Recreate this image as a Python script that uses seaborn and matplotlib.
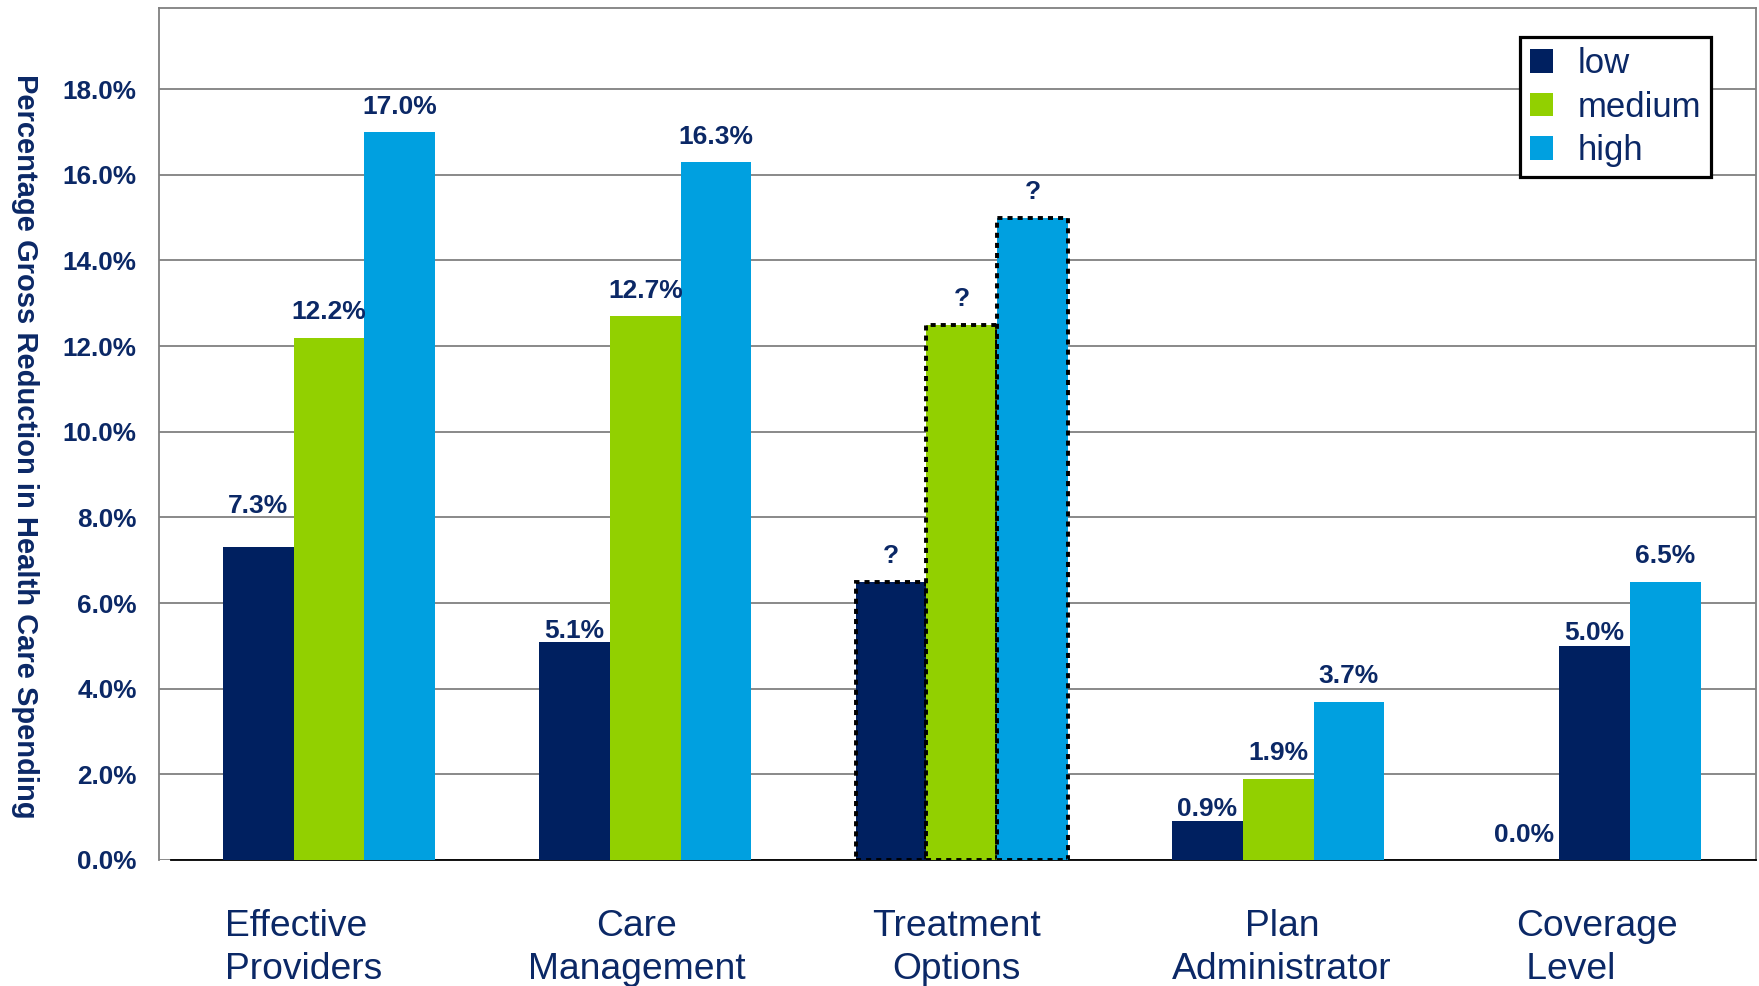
import matplotlib
matplotlib.use("Agg")
import matplotlib.pyplot as plt
import matplotlib.transforms as mtransforms
import seaborn as sns
import pandas as pd
from matplotlib.patches import Patch
from matplotlib.ticker import FixedLocator, FuncFormatter

categories = ["Effective\nProviders", "Care\nManagement", "Treatment\nOptions",
              "Plan\nAdministrator", "Coverage\n Level"]
levels = ["low", "medium", "high"]
low_vals = [7.3, 5.1, 6.5, 0.9, 0.0]
medium_vals = [12.2, 12.7, 12.5, 1.9, 5.0]
high_vals = [17.0, 16.3, 15.0, 3.7, 6.5]
low_labels = ["7.3%", "5.1%", "?", "0.9%", "0.0%"]
medium_labels = ["12.2%", "12.7%", "?", "1.9%", "5.0%"]
high_labels = ["17.0%", "16.3%", "?", "3.7%", "6.5%"]
y_ticks = [0, 2, 4, 6, 8, 10, 12, 14, 16, 18]

# label styling (offsets in points above bar top, per series)
low_pad = [21.5, -1.0, 9.5, 0.0, 9.5]
medium_pad = [9.5, 9.5, 9.5, 9.5, 0.5]
high_pad = [9.5, 9.5, 9.5, 9.5, 9.5]
# horizontal shift (px) and multi-line alignment of category labels
cat_dx = [-25, -9, -5, 4, 2]
cat_align = ["left", "center", "center", "center", "left"]

NAVY = "#002060"
GREEN = "#92D000"
BLUE = "#00A0E0"
TEXT = "#0B2866"
GRID = "#808080"

rows = []
for lvl, vals in zip(levels, [low_vals, medium_vals, high_vals]):
    for c, v in zip(categories, vals):
        rows.append({"category": c, "level": lvl, "value": v})
df = pd.DataFrame(rows)

sns.set_style("white")
plt.rcParams["font.family"] = ["Liberation Sans", "DejaVu Sans"]

fig = plt.figure(figsize=(17.59, 9.86), dpi=100)
ax = fig.add_axes([0.0904, 0.1278, 0.9079, 0.8643])

sns.barplot(data=df, x="category", y="value", hue="level", order=categories,
            hue_order=levels, palette=[NAVY, GREEN, BLUE], saturation=1,
            width=0.67, ax=ax, legend=False, zorder=3, linewidth=0)

# Coverage level: the second bar is drawn in navy in the original
ax.containers[1][4].set_facecolor(NAVY)

# Dashed outline for the uncertain Treatment Options bars
for cont in ax.containers:
    p = cont[2]
    p.set_edgecolor("black")
    p.set_linewidth(2.8)
    p.set_linestyle((0, (1.3, 1.3)))
    p.set_zorder(4)

for cont, labs, pads in zip(ax.containers, [low_labels, medium_labels, high_labels],
                            [low_pad, medium_pad, high_pad]):
    for patch, lab, pad in zip(cont, labs, pads):
        x = patch.get_x() + patch.get_width() / 2
        y = patch.get_y() + patch.get_height()
        ax.annotate(lab, (x, y), xytext=(0, pad), textcoords="offset points",
                    ha="center", va="bottom", fontsize=19, fontweight="bold",
                    color=TEXT, zorder=6)

ax.set_xlim(-0.537, 4.51)
ax.set_ylim(0, 19.9)
ax.yaxis.set_major_locator(FixedLocator(y_ticks))
ax.yaxis.set_major_formatter(FuncFormatter(lambda v, p: f"{v:.1f}%"))
ax.grid(axis="y", color=GRID, linewidth=1.3, zorder=0)
ax.set_axisbelow(True)

ax.tick_params(axis="y", length=0, pad=16, labelsize=18.8, labelcolor=TEXT)
for t in ax.get_yticklabels():
    t.set_fontweight("bold")
ax.tick_params(axis="x", which="major", length=0, pad=35, labelsize=26.8,
               labelcolor=TEXT)
ax.set_xticks([i - 0.5 for i in range(6)], minor=True)
ax.tick_params(axis="x", which="minor", length=7, width=1.2, color="black",
               direction="out")
for t, dx, al in zip(ax.get_xticklabels(), cat_dx, cat_align):
    t.set_linespacing(1.32)
    t.set_multialignment(al)
    t.set_transform(t.get_transform() +
                    mtransforms.ScaledTranslation(dx / 100, 0, fig.dpi_scale_trans))

ax.set_xlabel("")
ax.set_ylabel("Percentage Gross Reduction in Health Care Spending",
              rotation=-90, fontsize=21, fontweight="bold", color=TEXT,
              ha="center", va="center")
ax.yaxis.set_label_coords(-0.084, 0.486)

for s in ["left", "top", "right"]:
    ax.spines[s].set_color(GRID)
    ax.spines[s].set_linewidth(1.3)
ax.spines["bottom"].set_color("black")
ax.spines["bottom"].set_linewidth(1.3)
ax.spines["bottom"].set_bounds(-0.5, 4.51)

handles = [Patch(facecolor=c, edgecolor="none") for c in [NAVY, GREEN, BLUE]]
leg = ax.legend(handles, levels, loc="upper right", bbox_to_anchor=(0.972, 0.966),
                borderaxespad=0, fontsize=25, frameon=True, fancybox=False,
                handlelength=0.66, handleheight=0.66, handletextpad=0.7,
                borderpad=0.3, labelspacing=0.3)
for t in leg.get_texts():
    t.set_color(TEXT)
fr = leg.get_frame()
fr.set_edgecolor("black")
fr.set_linewidth(2.3)
fr.set_alpha(1)
leg.set_zorder(10)

fig.savefig("out.png", dpi=100)
